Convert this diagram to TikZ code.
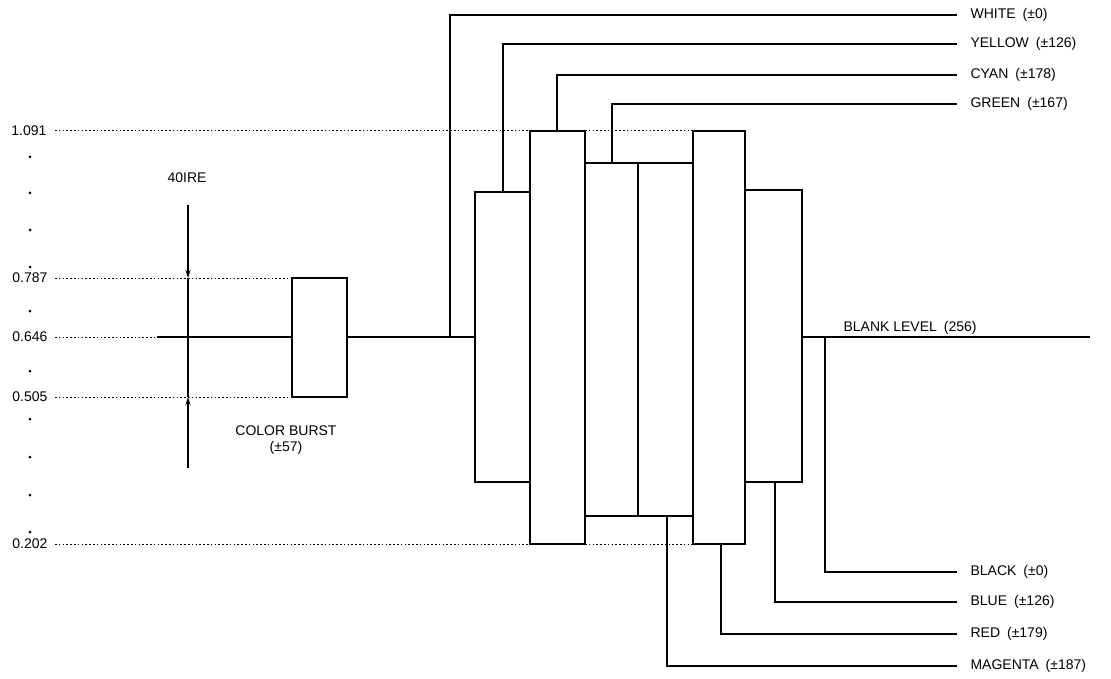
\documentclass[tikz,border=0pt]{standalone}
\usepackage{fontspec}
\setmainfont{Liberation Sans}
\usetikzlibrary{arrows.meta}
\begin{document}
\begin{tikzpicture}[x=1pt,y=-1pt,line width=1.1pt,
  lvl/.style={dash pattern=on 1.6pt off 2.2pt,line width=1pt},
  ax/.style={anchor=east,inner sep=0pt,font=\fontsize{14}{16}\selectfont},
  lbl/.style={anchor=west,inner xsep=13pt,inner ysep=0pt,font=\fontsize{14}{16}\selectfont},
  txt/.style={inner sep=0pt,font=\fontsize{14}{16}\selectfont,align=center},
  conn/.style={line width=1.1pt},
  dot/.style={circle,fill,inner sep=0pt,minimum size=3pt},
  ]
\useasboundingbox (0,0) rectangle (1111,679);
% axis labels
\node[ax] (a1) at (47,131) {1.091};
\node[ax] (a2) at (48,278) {0.787};
\node[ax] (a3) at (48,337) {0.646};
\node[ax] (a4) at (48,397) {0.505};
\node[ax] (a5) at (48,544) {0.202};
% axis dots
\foreach \y [count=\i] in {157,193,230,267,311,371,419,457,495,532}
  \node[dot] (d\i) at (30,\y) {};
% dotted levels
\draw[lvl] (55,131) -- (530,131);
\draw[lvl] (585,131) -- (693,131);
\draw[lvl] (55,544) -- (530,544);
\draw[lvl] (585,544) -- (693,544);
\draw[lvl] (55,278) -- (292,278);
\draw[lvl] (55,337) -- (157,337);
\draw[lvl] (55,397) -- (292,397);
% blank level
\draw (157,337) -- (292,337);
\draw (347,337) -- (475,337);
\draw (802,337) -- (1090,337);
% colour burst
\draw (292,278) rectangle (347,397);
% bars
\draw (475,192) rectangle (530,482); % yellow
\draw (530,131) rectangle (585,544); % cyan
\draw (585,163) rectangle (638,516); % green
\draw (638,163) rectangle (693,516); % magenta
\draw (693,131) rectangle (745,544); % red
\draw (745,190) rectangle (802,482); % blue
% connector start points
\coordinate (wS) at (450,337);
\coordinate (yS) at (503,192);
\coordinate (cS) at (557,131);
\coordinate (gS) at (612,163);
\coordinate (kS) at (825,337);
\coordinate (bS) at (775,482);
\coordinate (rS) at (721,544);
\coordinate (mS) at (667,516);
% labels
\node[lbl] (wL) at (957,15) {WHITE\enspace(±0)};
\node[lbl] (yL) at (957,44) {YELLOW\enspace(±126)};
\node[lbl] (cL) at (957,75) {CYAN\enspace(±178)};
\node[lbl] (gL) at (957,104) {GREEN\enspace(±167)};
\node[lbl] (kL) at (957,572) {BLACK\enspace(±0)};
\node[lbl] (bL) at (957,602) {BLUE\enspace(±126)};
\node[lbl] (rL) at (957,634) {RED\enspace(±179)};
\node[lbl] (mL) at (957,666) {MAGENTA\enspace(±187)};
\draw[conn] (wS) |- (wL.west);
\draw[conn] (yS) |- (yL.west);
\draw[conn] (cS) |- (cL.west);
\draw[conn] (gS) |- (gL.west);
\draw[conn] (kS) |- (kL.west);
\draw[conn] (bS) |- (bL.west);
\draw[conn] (rS) |- (rL.west);
\draw[conn] (mS) |- (mL.west);
\node[txt,anchor=base west] (bl) at (843,331) {BLANK LEVEL\enspace(256)};
% 40 IRE
\node[txt] (ire) at (187,178) {40IRE};
\coordinate (i1) at (188,205);
\coordinate (i2) at (188,278);
\coordinate (i3) at (188,397);
\coordinate (i4) at (188,468);
\draw[-{Stealth[length=8pt,width=5pt]}] (i1) -- (i2);
\draw (i2) -- (i3);
\draw[-{Stealth[length=8pt,width=5pt]}] (i4) -- (i3);
\node[txt] (cb) at (286,440) {COLOR BURST\\(±57)};
\end{tikzpicture}
\end{document}
